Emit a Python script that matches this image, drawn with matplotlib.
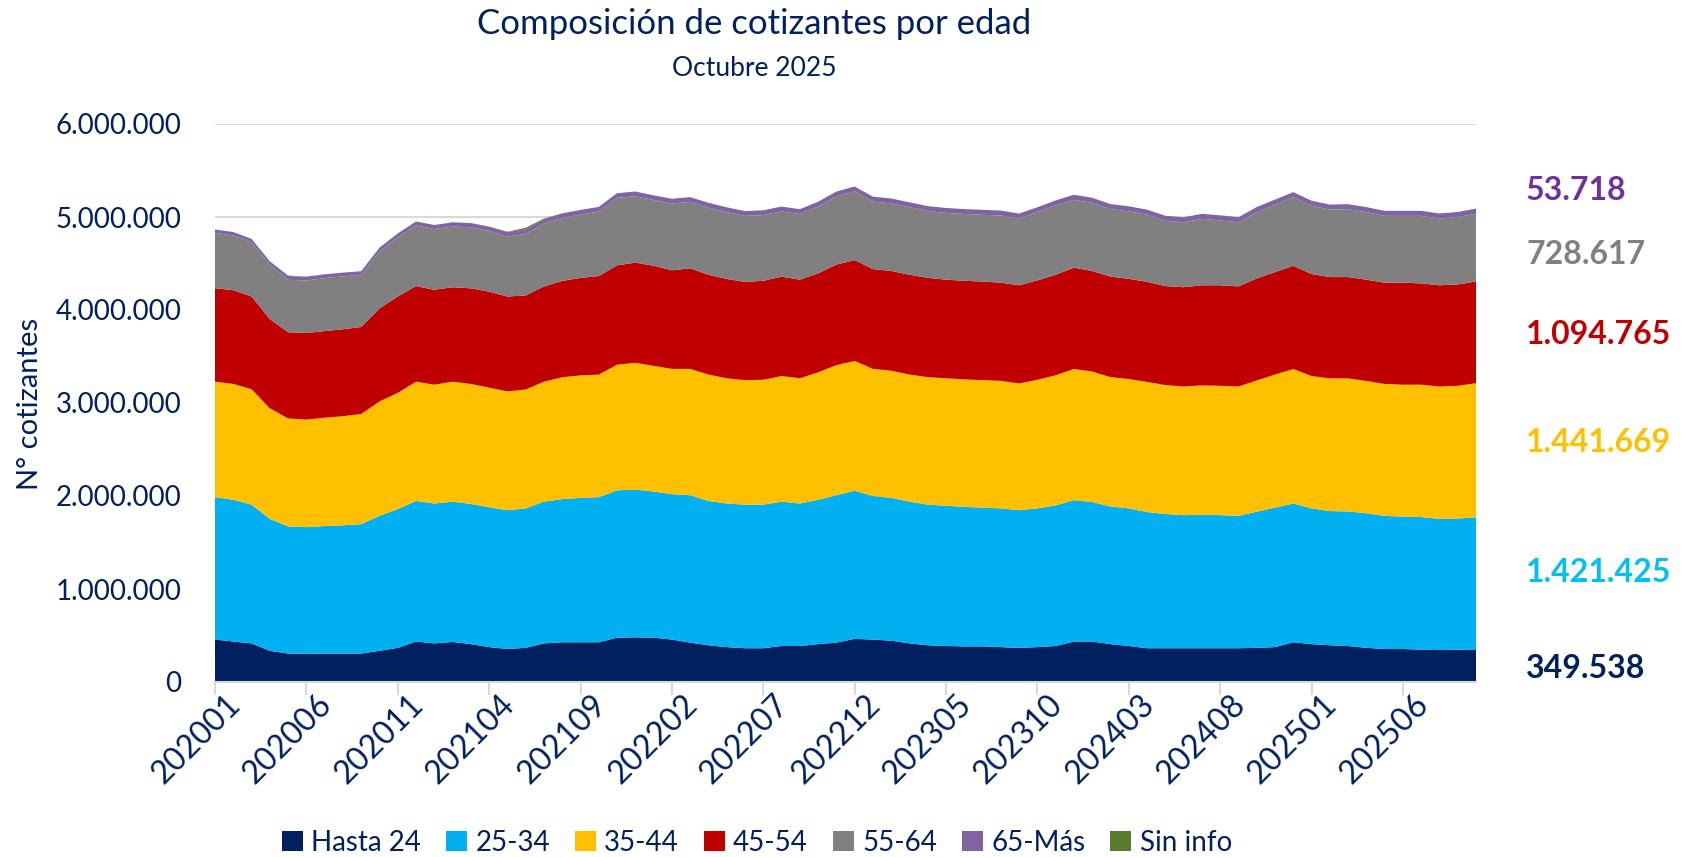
import numpy as np
import matplotlib.pyplot as plt
import matplotlib.transforms as mtransforms
from matplotlib.ticker import FuncFormatter, MultipleLocator
from matplotlib.patches import Patch

plt.rcParams['font.family'] = ['Lato', 'DejaVu Sans']

# months 202001 .. 202510
periods = [f"{2020 + m // 12}{m % 12 + 1:02d}" for m in range(70)]

# cotizantes, in thousands
hasta_24 = [456, 435, 415, 335, 306, 302, 306, 306, 306, 335,
            367, 435, 415, 431, 407, 375, 355, 367, 415, 427,
            427, 427, 476, 480, 476, 456, 423, 395, 375, 363,
            363, 387, 387, 407, 423, 464, 456, 444, 415, 395,
            387, 383, 383, 375, 367, 375, 387, 435, 435, 407,
            387, 363, 363, 363, 363, 363, 363, 367, 375, 427,
            407, 395, 387, 367, 355, 355, 347, 343, 347, 349.538]
edad_25_34 = [1532, 1524, 1492, 1419, 1367, 1363, 1371, 1379, 1391, 1452,
              1492, 1512, 1504, 1508, 1508, 1504, 1492, 1500, 1524, 1540,
              1552, 1560, 1585, 1589, 1572, 1564, 1585, 1552, 1544, 1544,
              1544, 1552, 1532, 1552, 1585, 1593, 1544, 1536, 1524, 1512,
              1508, 1500, 1492, 1492, 1480, 1492, 1512, 1520, 1500, 1480,
              1480, 1464, 1443, 1431, 1435, 1431, 1423, 1464, 1500, 1492,
              1460, 1443, 1447, 1447, 1431, 1423, 1427, 1411, 1411, 1421.425]
edad_35_44 = [1242, 1246, 1242, 1189, 1161, 1157, 1165, 1173, 1185, 1230,
              1250, 1282, 1278, 1290, 1290, 1286, 1278, 1278, 1290, 1310,
              1318, 1318, 1351, 1363, 1351, 1347, 1359, 1359, 1347, 1339,
              1343, 1351, 1347, 1371, 1399, 1395, 1367, 1367, 1367, 1371,
              1371, 1371, 1371, 1371, 1363, 1383, 1399, 1411, 1403, 1391,
              1391, 1399, 1387, 1383, 1391, 1391, 1391, 1411, 1431, 1447,
              1423, 1427, 1431, 1423, 1419, 1419, 1423, 1423, 1427, 1441.669]
edad_45_54 = [1004, 1008, 996, 960, 927, 931, 931, 935, 935, 1000,
              1036, 1028, 1020, 1016, 1028, 1032, 1020, 1012, 1024, 1036,
              1048, 1060, 1068, 1077, 1077, 1060, 1081, 1073, 1068, 1056,
              1064, 1068, 1060, 1064, 1081, 1085, 1073, 1073, 1073, 1068,
              1060, 1060, 1060, 1056, 1056, 1068, 1081, 1089, 1081, 1081,
              1077, 1077, 1064, 1068, 1077, 1081, 1077, 1097, 1101, 1109,
              1097, 1089, 1089, 1089, 1089, 1097, 1089, 1089, 1089, 1094.765]
edad_55_64 = [597, 589, 585, 585, 564, 564, 569, 569, 560, 613,
              637, 653, 653, 653, 657, 653, 645, 661, 677, 677,
              681, 694, 726, 714, 706, 718, 714, 722, 718, 710,
              706, 702, 706, 718, 734, 738, 726, 726, 726, 718,
              718, 718, 718, 722, 718, 734, 746, 730, 734, 726,
              726, 722, 702, 698, 714, 698, 689, 714, 726, 738,
              734, 726, 730, 726, 718, 718, 726, 718, 726, 728.617]
edad_65_mas = [35, 36, 35, 36, 40, 42, 42, 40, 40, 40,
               41, 42, 44, 45, 45, 47, 48, 48, 48, 49,
               50, 50, 50, 51, 51, 51, 52, 52, 52, 52,
               52, 52, 52, 52, 52, 53, 53, 53, 53, 53,
               53, 53, 53, 53, 53, 53, 53, 54, 54, 54,
               54, 54, 54, 54, 54, 54, 54, 54, 54, 54,
               54, 54, 54, 54, 54, 54, 54, 54, 54, 53.718]
sin_info = [0, 0, 0, 0, 6, 0, 0, 0, 0, 0,
            0, 0, 0, 0, 0, 0, 4, 18, 6, 0,
            0, 0, 0, 0, 0, 0, 0, 0, 0, 0,
            0, 0, 0, 0, 0, 0, 0, 0, 0, 0,
            0, 0, 0, 0, 0, 0, 0, 0, 0, 0,
            0, 0, 0, 0, 0, 0, 0, 0, 0, 0,
            0, 0, 0, 0, 0, 0, 0, 0, 0, 0]

labels = ['Hasta 24', '25-34', '35-44', '45-54', '55-64', '65-Más', 'Sin info']
series = [hasta_24, edad_25_34, edad_35_44, edad_45_54, edad_55_64, edad_65_mas, sin_info]
colors = ['#002060', '#00B0F0', '#FFC000', '#C00000', '#808080', '#8064A2', '#5A7A2C']
label_colors = ['#002060', '#00C0F0', '#FFC000', '#C00000', '#808080', '#7030A0']
label_y = [668, 572, 442, 334, 254, 190]   # pixel rows of the end labels

navy = '#002060'
W, H = 1689, 857

fig = plt.figure(figsize=(W / 100, H / 100), dpi=100)
ax = fig.add_axes([215 / W, 1 - 682 / H, (1476 - 215) / W, (682 - 124) / H])

x = np.arange(len(periods))
ax.stackplot(x, *[np.array(s) * 1000 for s in series], colors=colors, labels=labels, linewidth=0)

ax.set_xlim(0, len(periods) - 1)
ax.set_ylim(0, 6e6)
ax.yaxis.set_major_locator(MultipleLocator(1e6))
ax.yaxis.set_major_formatter(FuncFormatter(lambda v, p: f"{int(v):,}".replace(",", ".")))
ax.grid(axis='y', color='#D9D9D9', lw=1.5)
ax.set_axisbelow(True)
for s in ['top', 'right', 'left']:
    ax.spines[s].set_visible(False)
ax.spines['bottom'].set_color('#D9D9D9')
ax.spines['bottom'].set_linewidth(1.5)

ax.tick_params(axis='y', length=0, pad=24, labelsize=20, labelcolor=navy)
ax.set_xticks(x[::5])
ax.set_xticklabels(periods[::5])
ax.tick_params(axis='x', length=9, width=1.5, color='#D9D9D9', labelsize=23, labelcolor=navy, pad=4)
offset = mtransforms.ScaledTranslation(15 / 72, 0, fig.dpi_scale_trans)
for lbl in ax.get_xticklabels():
    lbl.set_rotation(45)
    lbl.set_ha('right')
    lbl.set_va('center')
    lbl.set_rotation_mode('anchor')
    lbl.set_transform(lbl.get_transform() + offset)

ax.set_ylabel('N° cotizantes', fontsize=21, color=navy)
ax.yaxis.set_label_coords(43 / W, 1 - 404 / H, transform=fig.transFigure)

fig.text(754 / W, 1 - 24 / H, 'Composición de cotizantes por edad', ha='center', va='center',
         fontsize=25, color=navy)
fig.text(754 / W, 1 - 68 / H, 'Octubre 2025', ha='center', va='center', fontsize=19, color=navy)

# last-month values at the right
for s, c, yy in zip(series[:6], label_colors, label_y):
    txt = f"{round(s[-1] * 1000):,}".replace(",", ".")
    fig.text(1526 / W, 1 - yy / H, txt, ha='left', va='center', fontsize=23,
             fontweight='bold', color=c)

handles = [Patch(facecolor=c, edgecolor='none') for c in colors]
fig.legend(handles, labels, loc='center', bbox_to_anchor=(757 / W, 1 - 843 / H), ncol=7,
           frameon=False, fontsize=20, handlelength=0.75, handleheight=0.75,
           handletextpad=0.3, columnspacing=0.9, labelcolor=navy)

fig.savefig('out.png', dpi=100)
